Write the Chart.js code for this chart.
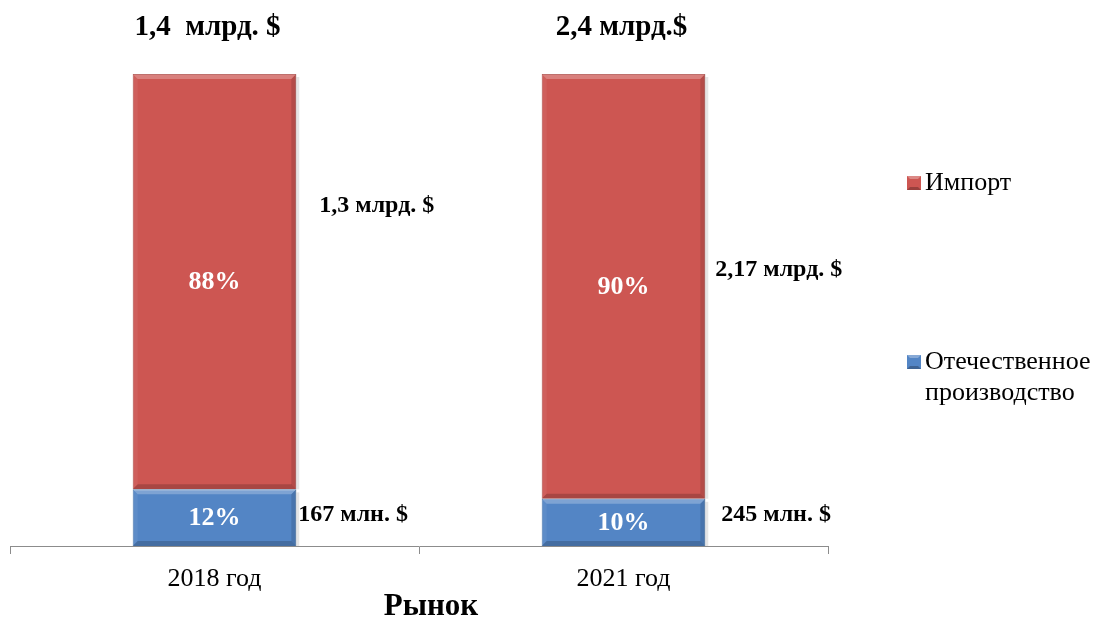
<!DOCTYPE html>
<html>
<head>
<meta charset="utf-8">
<script src="https://cdn.jsdelivr.net/npm/chart.js@4.4.1/dist/chart.umd.min.js"></script>
<style>
  body { margin: 0; background: #fff; }
</style>
</head>
<body>
<canvas id="graficoRynok" width="1098" height="619"></canvas>
<script>
// Данные
const kategorii = ['2018 год', '2021 год'];
const otechestvennoe = [12, 10]; // %
const importDolya = [88, 90]; // %
const itogoPodpisi = ['1,4  млрд. $', '2,4 млрд.$'];
const importPodpisi = ['1,3 млрд. $', '2,17 млрд. $'];
const otechPodpisi = ['167 млн. $', '245 млн. $'];
const nazvanieOsi = 'Рынок';

const SERIF = '"Liberation Serif", "Times New Roman", serif';
const RED = '#CD5652';
const BLUE = '#5385C5';

// подписи справа от столбцов (смещение по x от края столбца, уровень по оси y)
const importMesto = [{ dx: 23, v: 72 }, { dx: 10, v: 58.5 }];
const otechMesto = [{ dx: 2, dy: -3 }, { dx: 16, dy: -8 }];
const itogoSdvig = [-7, -2];

function shade(ctx, pts, color) {
    ctx.beginPath();
    ctx.moveTo(pts[0][0], pts[0][1]);
    for (let i = 1; i < pts.length; i++) ctx.lineTo(pts[i][0], pts[i][1]);
    ctx.closePath();
    ctx.fillStyle = color;
    ctx.fill();
}

// объёмный эффект столбцов
const bevelPlugin = {
    id: 'bevel',
    beforeDatasetsDraw(chart) {
        // лёгкая тень справа
        const ctx = chart.ctx;
        ctx.save();
        chart.data.datasets.forEach((ds, di) => {
            chart.getDatasetMeta(di).data.forEach(bar => {
                const p = bar.getProps(['x', 'y', 'base', 'width'], true);
                const r = p.x + p.width / 2;
                const t = Math.min(p.y, p.base), b = Math.max(p.y, p.base);
                ctx.fillStyle = 'rgba(0,0,0,0.10)';
                ctx.fillRect(r, t + 3, 3, b - t - 3);
            });
        });
        ctx.restore();
    },
    afterDatasetsDraw(chart) {
        const ctx = chart.ctx;
        ctx.save();
        chart.data.datasets.forEach((ds, di) => {
            chart.getDatasetMeta(di).data.forEach(bar => {
                const p = bar.getProps(['x', 'y', 'base', 'width'], true);
                const l = p.x - p.width / 2, r = p.x + p.width / 2;
                const t = Math.min(p.y, p.base), b = Math.max(p.y, p.base);
                const k = 5;
                shade(ctx, [[l, t], [r, t], [r - k, t + k], [l + k, t + k]], 'rgba(255,255,255,0.25)');
                shade(ctx, [[l, t], [l + k, t + k], [l + k, b - k], [l, b]], 'rgba(255,255,255,0.06)');
                shade(ctx, [[r, t], [r, b], [r - k, b - k], [r - k, t + k]], 'rgba(0,0,0,0.12)');
                shade(ctx, [[l, b], [l + k, b - k], [r - k, b - k], [r, b]], 'rgba(0,0,0,0.18)');
            });
        });
        ctx.restore();
    }
};

// подписи и легенда
const labelsPlugin = {
    id: 'podpisi',
    afterDraw(chart) {
        const ctx = chart.ctx;
        const yScale = chart.scales.y;
        const area = chart.chartArea;
        const metaOt = chart.getDatasetMeta(0).data;
        const metaIm = chart.getDatasetMeta(1).data;
        ctx.save();
        ctx.textBaseline = 'middle';

        // проценты внутри столбцов
        ctx.fillStyle = '#fff';
        ctx.textAlign = 'center';
        ctx.font = 'bold 26px ' + SERIF;
        [[metaOt, otechestvennoe], [metaIm, importDolya]].forEach(([meta, vals]) => {
            meta.forEach((bar, i) => {
                const p = bar.getProps(['x', 'y', 'base'], true);
                ctx.fillText(vals[i] + '%', p.x, (p.y + p.base) / 2 + 1);
            });
        });

        // итог над столбцами
        ctx.fillStyle = '#000';
        ctx.font = 'bold 29px ' + SERIF;
        metaIm.forEach((bar, i) => {
            ctx.fillText(itogoPodpisi[i], bar.x + itogoSdvig[i], 28);
        });

        // название оси X
        ctx.font = 'bold 31px ' + SERIF;
        ctx.fillText(nazvanieOsi, (area.left + area.right) / 2 + 12, 607);

        // подписи справа
        ctx.textAlign = 'left';
        ctx.font = 'bold 24px ' + SERIF;
        metaIm.forEach((bar, i) => {
            const right = bar.x + bar.width / 2;
            ctx.fillText(importPodpisi[i], right + importMesto[i].dx, yScale.getPixelForValue(importMesto[i].v));
        });
        metaOt.forEach((bar, i) => {
            const p = bar.getProps(['x', 'y', 'base', 'width'], true);
            const right = p.x + p.width / 2;
            ctx.fillText(otechPodpisi[i], right + otechMesto[i].dx, (p.y + p.base) / 2 + otechMesto[i].dy);
        });

        // легенда
        const items = [
            { color: RED, lines: ['Импорт'], y: 183 },
            { color: BLUE, lines: ['Отечественное', 'производство'], y: 362 }
        ];
        ctx.font = '26px ' + SERIF;
        items.forEach(it => {
            const sx = 907, sy = it.y - 7;
            ctx.fillStyle = it.color;
            ctx.fillRect(sx, sy, 14, 14);
            shade(ctx, [[sx, sy], [sx + 14, sy], [sx + 11, sy + 3], [sx + 3, sy + 3]], 'rgba(255,255,255,0.3)');
            shade(ctx, [[sx, sy + 14], [sx + 3, sy + 11], [sx + 11, sy + 11], [sx + 14, sy + 14]], 'rgba(0,0,0,0.25)');
            ctx.fillStyle = '#000';
            it.lines.forEach((ln, j) => ctx.fillText(ln, 925, it.y + j * 31));
        });
        ctx.restore();
    }
};

const ctx = document.getElementById('graficoRynok').getContext('2d');

new Chart(ctx, {
    type: 'bar',
    data: {
        labels: kategorii,
        datasets: [
            {
                label: 'Отечественное производство',
                data: otechestvennoe,
                backgroundColor: BLUE,
                borderColor: '#3F6EA8',
                borderWidth: 1
            },
            {
                label: 'Импорт',
                data: importDolya,
                backgroundColor: RED,
                borderColor: '#A8403D',
                borderWidth: 1
            }
        ]
    },
    options: {
        responsive: false,
        animation: false,
        devicePixelRatio: 1,
        layout: {
            padding: { left: 10, right: 270, top: 74, bottom: 0 }
        },
        datasets: {
            bar: { categoryPercentage: 1, barPercentage: 0.4 }
        },
        plugins: {
            legend: { display: false },
            tooltip: { enabled: false }
        },
        scales: {
            x: {
                stacked: true,
                afterFit(scale) { scale.height = 73; },
                grid: {
                    offset: true,
                    drawOnChartArea: false,
                    drawTicks: true,
                    tickLength: 8,
                    color: '#8C8C8C'
                },
                border: { display: true, color: '#8C8C8C', width: 1 },
                ticks: {
                    color: '#000',
                    padding: 10,
                    font: { family: SERIF, size: 26 }
                }
            },
            y: {
                stacked: true,
                display: false,
                min: 0,
                max: 100
            }
        }
    },
    plugins: [bevelPlugin, labelsPlugin]
});
</script>
</body>
</html>
